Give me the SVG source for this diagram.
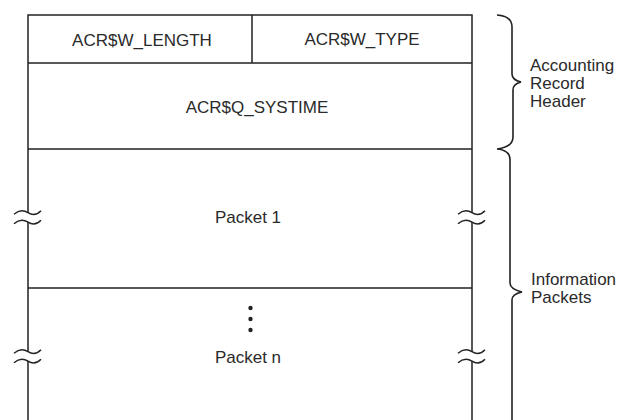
<svg xmlns="http://www.w3.org/2000/svg" width="624" height="420" viewBox="0 0 624 420">
<style>
.ln{fill:none;stroke:#222;stroke-width:1.5}
.br{fill:none;stroke:#222;stroke-width:1.6;stroke-linejoin:miter}
text{font-family:"Liberation Sans",Arial,sans-serif;font-size:17px;fill:#2a2a2a}
.c{text-anchor:middle}
</style>
<defs>
<path id="wave" d="M-14,1.5 Q-7,-4.5 0,0 T13,-2"/>
<g id="brk"><use href="#wave"/><use href="#wave" y="9.5"/></g>
</defs>
<g id="connectors">
<path class="ln" d="M28,420 V361 M28,351.7 V222 M28,212.7 V15 H472 V212.7 M472,222 V351.7 M472,361 V420"/>
<path class="ln" d="M28,63 H472 M252,15 V63 M28,149 H472 M28,288 H472"/>
<g class="ln">
<use href="#brk" x="28" y="212.7"/>
<use href="#brk" x="472" y="212.7"/>
<use href="#brk" x="28" y="351.7"/>
<use href="#brk" x="472" y="351.7"/>
</g>
<path class="br" d="M497,15 Q512,16 512,27 V74 Q512,80 521,82 Q513,84 513,90 V137 Q513,147 497,149 Q510,150 510,160 V283 Q510,289 522,292 Q512,294 512,300 V420"/>
</g>
<g id="n_length"><text class="c" x="142" y="46">ACR$W_LENGTH</text></g>
<g id="n_type"><text class="c" x="362" y="45">ACR$W_TYPE</text></g>
<g id="n_systime"><text class="c" x="257" y="113">ACR$Q_SYSTIME</text></g>
<g id="n_packet1"><text class="c" x="248" y="223">Packet 1</text></g>
<g id="n_packetn">
<circle cx="250.5" cy="308" r="2.2" fill="#222"/>
<circle cx="250.5" cy="319" r="2.2" fill="#222"/>
<circle cx="250.5" cy="330" r="2.2" fill="#222"/>
<text class="c" x="248" y="363">Packet n</text>
</g>
<g id="n_header"><text x="530" y="71">Accounting</text><text x="530" y="89">Record</text><text x="530" y="107">Header</text></g>
<g id="n_info"><text x="531" y="285">Information</text><text x="531" y="303">Packets</text></g>
</svg>
